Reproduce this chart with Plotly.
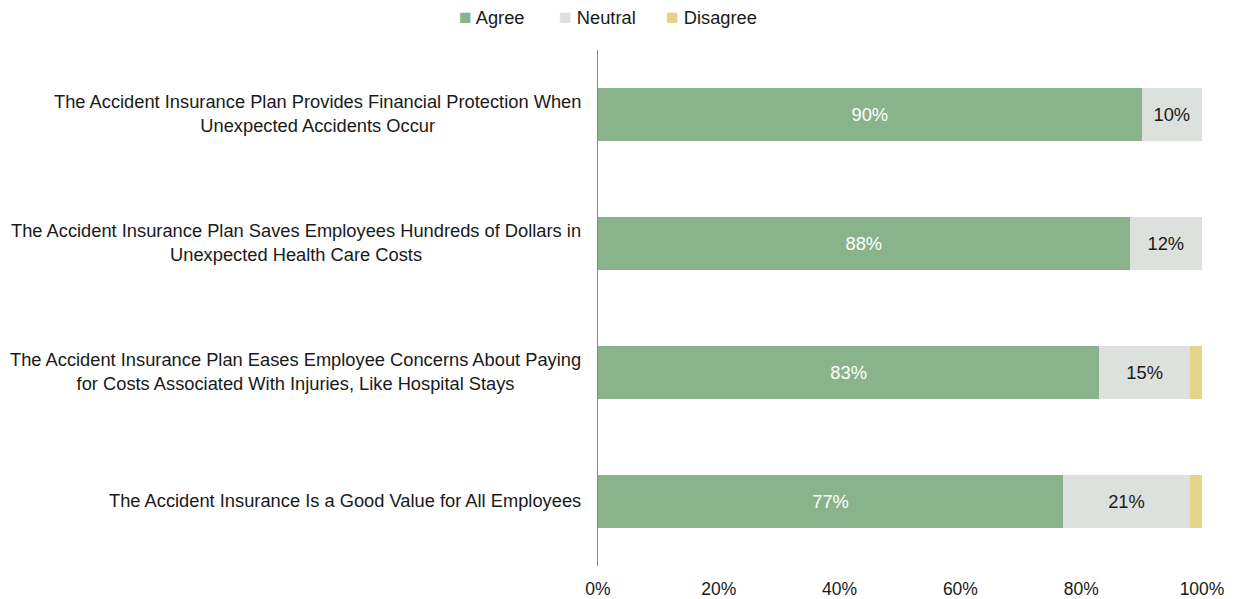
import plotly.graph_objects as go

statements = [
    "The Accident Insurance Plan Provides Financial Protection When<br>Unexpected Accidents Occur",
    "The Accident Insurance Plan Saves Employees Hundreds of Dollars in<br>Unexpected Health Care Costs",
    "The Accident Insurance Plan Eases Employee Concerns About Paying<br>for Costs Associated With Injuries, Like Hospital Stays",
    "The Accident Insurance Is a Good Value for All Employees",
]
agree = [90, 88, 83, 77]
neutral = [10, 12, 15, 21]
disagree = [0.2, 0.2, 2, 2]

series_names = ["Agree", "Neutral", "Disagree"]
series_colors = ["#88B38B", "#DCE1DE", "#E3D488"]

tick_vals = [0, 20, 40, 60, 80, 100]
tick_text = ["0%", "20%", "40%", "60%", "80%", "100%"]

FONT = "Liberation Sans, Arial, sans-serif"
TXT = "#1a1a1a"
FS = 18.3
cats = list(range(len(statements)))

L, R, T, B = 598, 31, 50, 33
W, H = 1233, 599
plot_w = W - L - R

fig = go.Figure()
fig.add_trace(go.Bar(
    name="Agree", y=cats, x=agree, orientation="h",
    marker=dict(color=series_colors[0], line=dict(width=0)),
    text=[f"{v}%" for v in agree], textposition="inside", insidetextanchor="middle",
    textfont=dict(color="white", size=FS, family=FONT),
))
fig.add_trace(go.Bar(
    name="Neutral", y=cats, x=neutral, orientation="h",
    marker=dict(color=series_colors[1], line=dict(width=0)),
    text=[f"{v}%" for v in neutral], textposition="inside", insidetextanchor="middle",
    textfont=dict(color=TXT, size=FS, family=FONT),
))
fig.add_trace(go.Bar(
    name="Disagree", y=cats, x=disagree, orientation="h",
    marker=dict(color=series_colors[2], line=dict(width=0)),
    hoverinfo="x+name",
))

# category labels, centred line-by-line, right-aligned against the axis
for i, s in enumerate(statements):
    fig.add_annotation(
        x=0, xref="paper", y=i, yref="y", text=s, showarrow=False,
        xanchor="right", align="center", xshift=-15, yshift=1,
        font=dict(size=FS, color=TXT, family=FONT),
    )

# compact legend row across the top
legend_px = [457, 557, 664]
for name, color, px in zip(series_names, series_colors, legend_px):
    fig.add_annotation(
        x=(px - L) / plot_w, xref="paper", y=1, yref="paper",
        yshift=34, xanchor="left", yanchor="middle", showarrow=False,
        text=f'<span style="color:{color};font-size:21px">■</span> {name}',
        font=dict(size=FS, color=TXT, family=FONT),
    )

fig.update_layout(
    barmode="stack",
    bargap=0.595,
    width=W, height=H,
    margin=dict(l=L, r=R, t=T, b=B, autoexpand=False),
    paper_bgcolor="white", plot_bgcolor="white",
    font=dict(family=FONT, size=FS, color=TXT),
    showlegend=False,
    xaxis=dict(
        range=[0, 100], tickvals=tick_vals, ticktext=tick_text,
        showgrid=False, zeroline=False, showline=False,
        ticklabelstandoff=10, tickfont=dict(size=17.5),
        automargin=False, fixedrange=True,
    ),
    yaxis=dict(
        range=[3.5, -0.5], tickvals=cats, showticklabels=False,
        showgrid=False, zeroline=False,
        showline=True, linecolor="#888888", linewidth=1,
        automargin=False, fixedrange=True,
    ),
)

fig.write_html("out.html")
